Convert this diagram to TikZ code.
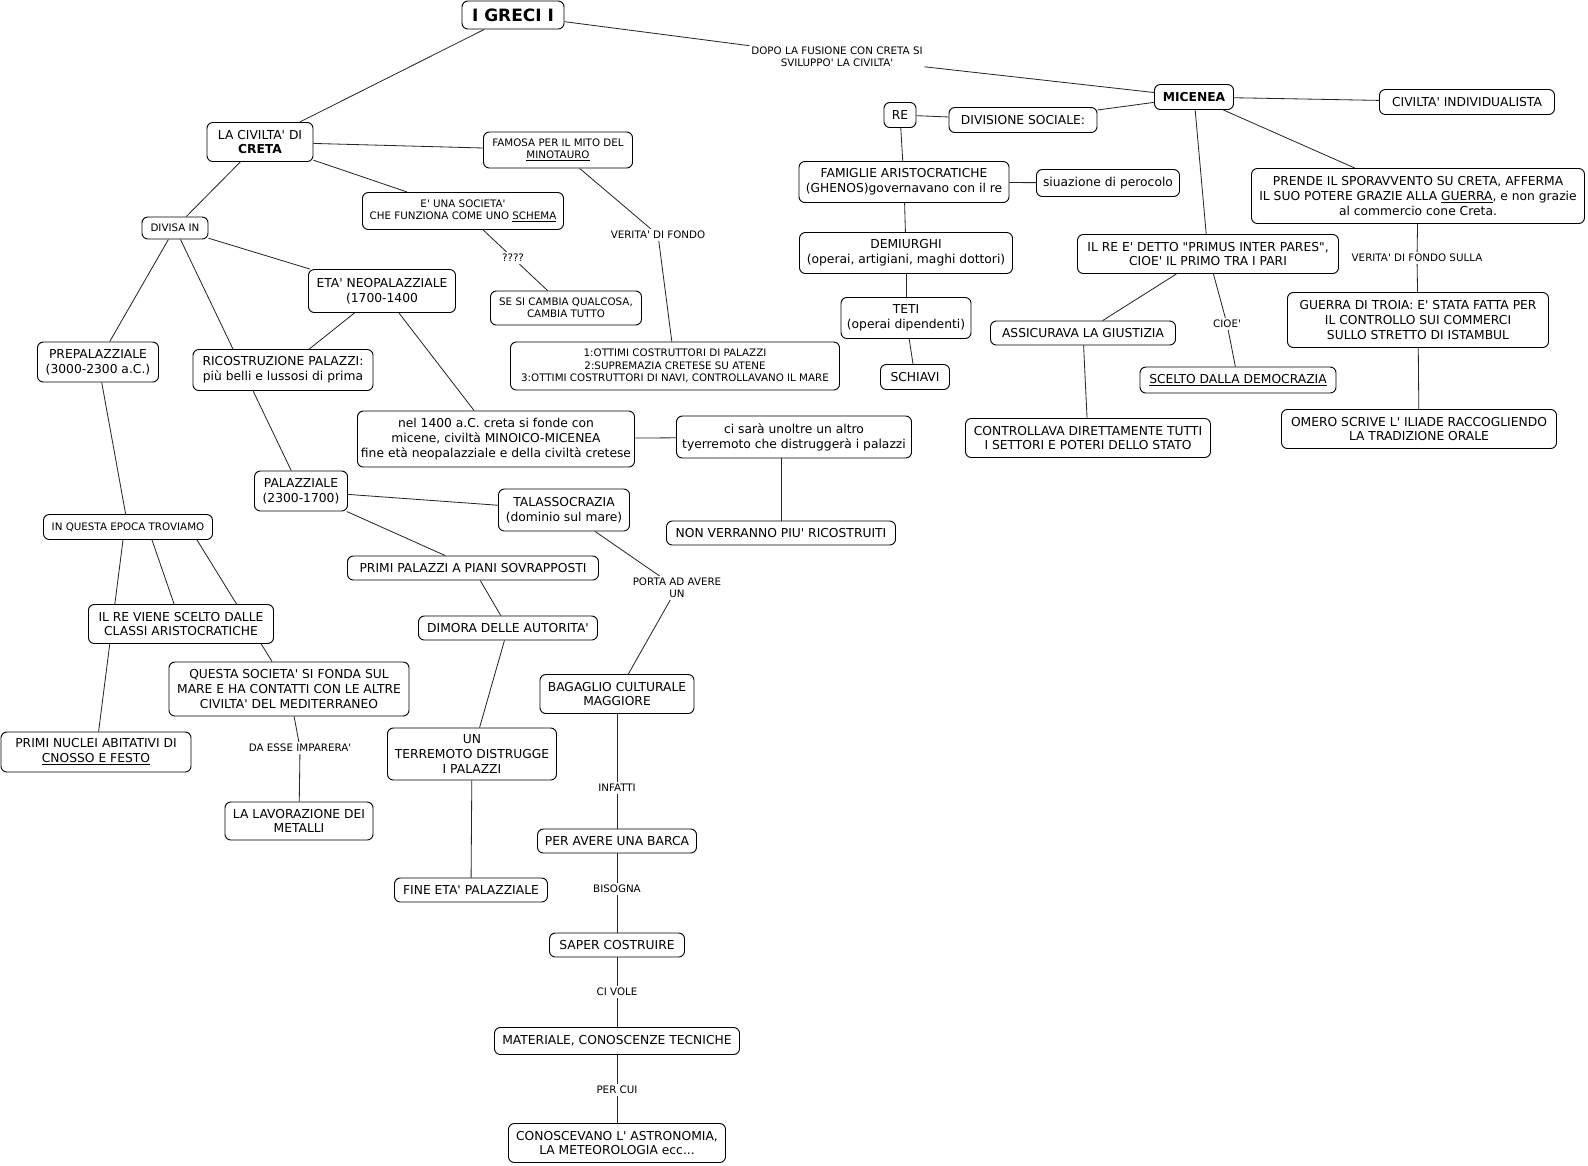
\documentclass[tikz,border=0pt]{standalone}
\usepackage{fontspec}
\newfontfamily\mapfont{DejaVu Sans}
\usetikzlibrary{calc,backgrounds}
\tikzset{
  cm/box/.style={
    draw=black,
    line width=0.8pt,
    rounded corners=5pt,
    fill=white,
    align=center,
    inner sep=1pt,
    font=\mapfont\fontsize{10.5}{12.6}\selectfont
  },
  cm/smallbox/.style={cm/box, font=\mapfont\fontsize{8.8}{10.6}\selectfont},
  cm/link/.style={fill=white, align=center, inner sep=1.5pt, font=\mapfont\fontsize{8.8}{10.4}\selectfont},
  cm/line/.style={line width=0.7pt, draw=black!85}
}

\begin{document}
\begin{tikzpicture}[x=0.03cm,y=-0.03cm]
  \useasboundingbox (0,0) rectangle (1588,1165);
  % title and creta
  \node[cm/box,minimum width=3.06cm,minimum height=0.84cm,font=\mapfont\bfseries\fontsize{14.5}{17}\selectfont] (greci) at (513,15) {I GRECI I};
  \node[cm/box,minimum width=3.18cm,minimum height=1.17cm] (creta) at (260,142) {LA CIVILTA' DI\\\textbf{CRETA}};
  \node[cm/smallbox,minimum width=1.98cm,minimum height=0.66cm] (divisa) at (175,228) {DIVISA IN};
  \node[cm/smallbox,minimum width=4.47cm,minimum height=1.08cm] (famosa) at (558,150) {FAMOSA PER IL MITO DEL\\\underline{MINOTAURO}};
  \node[cm/smallbox,minimum width=6.03cm,minimum height=1.11cm] (societa) at (463,211) {E' UNA SOCIETA'\\CHE FUNZIONA COME UNO \underline{SCHEMA}};
  \node[cm/smallbox,minimum width=4.53cm,minimum height=1.02cm] (cambia) at (566,308) {SE SI CAMBIA QUALCOSA,\\CAMBIA TUTTO};
  \node[cm/smallbox,minimum width=9.87cm,minimum height=1.44cm] (ottimi) at (675,366) {1:OTTIMI COSTRUTTORI DI PALAZZI\\2:SUPREMAZIA CRETESE SU ATENE\\3:OTTIMI COSTRUTTORI DI NAVI, CONTROLLAVANO IL MARE};
  \node[cm/box,minimum width=4.41cm,minimum height=1.29cm] (neopal) at (382,291) {ETA' NEOPALAZZIALE\\(1700-1400};
  \node[cm/box,minimum width=3.63cm,minimum height=1.2cm] (prepal) at (98,362) {PREPALAZZIALE\\(3000-2300 a.C.)};
  \node[cm/box,minimum width=5.4cm,minimum height=1.23cm] (ricos) at (283,370) {RICOSTRUZIONE PALAZZI:\\più belli e lussosi di prima};
  \node[cm/box,minimum width=8.31cm,minimum height=1.68cm] (fusione) at (496,439) {nel 1400 a.C. creta si fonde con\\micene, civiltà MINOICO-MICENEA\\fine età neopalazziale e della civiltà cretese};
  \node[cm/box,minimum width=7.05cm,minimum height=1.26cm] (terremoto2) at (794,437) {ci sarà unoltre un altro\\tyerremoto che distruggerà i palazzi};
  \node[cm/box,minimum width=6.87cm,minimum height=0.72cm] (nonricos) at (781,533) {NON VERRANNO PIU' RICOSTRUITI};
  \node[cm/box,minimum width=2.79cm,minimum height=1.2cm] (palaz) at (301,491) {PALAZZIALE\\(2300-1700)};
  \node[cm/box,minimum width=3.93cm,minimum height=1.26cm] (talasso) at (564,510) {TALASSOCRAZIA\\(dominio sul mare)};
  \node[cm/smallbox,minimum width=5.07cm,minimum height=0.75cm] (epoca) at (128,527) {IN QUESTA EPOCA TROVIAMO};
  \node[cm/box,minimum width=7.53cm,minimum height=0.72cm] (primipal) at (473,568) {PRIMI PALAZZI A PIANI SOVRAPPOSTI};
  \node[cm/box,minimum width=5.37cm,minimum height=0.72cm] (dimora) at (508,628) {DIMORA DELLE AUTORITA'};
  \node[cm/box,minimum width=5.55cm,minimum height=1.17cm] (scelto) at (181,624) {IL RE VIENE SCELTO DALLE\\CLASSI ARISTOCRATICHE};
  \node[cm/box,minimum width=7.2cm,minimum height=1.62cm] (mare) at (289,689) {QUESTA SOCIETA' SI FONDA SUL\\MARE E HA CONTATTI CON LE ALTRE\\CIVILTA' DEL MEDITERRANEO};
  \node[cm/box,minimum width=5.7cm,minimum height=1.2cm] (nuclei) at (96,752) {PRIMI NUCLEI ABITATIVI DI\\\underline{CNOSSO E FESTO}};
  \node[cm/box,minimum width=4.44cm,minimum height=1.14cm] (metalli) at (299,821) {LA LAVORAZIONE DEI\\METALLI};
  \node[cm/box,minimum width=5.07cm,minimum height=1.56cm] (terremoto) at (472,754) {UN\\TERREMOTO DISTRUGGE\\I PALAZZI};
  \node[cm/box,minimum width=4.59cm,minimum height=0.72cm] (fineeta) at (471,890) {FINE ETA' PALAZZIALE};
  \node[cm/box,minimum width=4.62cm,minimum height=1.17cm] (bagaglio) at (617,694) {BAGAGLIO CULTURALE\\MAGGIORE};
  \node[cm/box,minimum width=4.77cm,minimum height=0.72cm] (barca) at (617,841) {PER AVERE UNA BARCA};
  \node[cm/box,minimum width=4.05cm,minimum height=0.72cm] (costruire) at (617,945) {SAPER COSTRUIRE};
  \node[cm/box,minimum width=7.35cm,minimum height=0.81cm] (materiale) at (617,1041) {MATERIALE, CONOSCENZE TECNICHE};
  \node[cm/box,minimum width=6.51cm,minimum height=1.17cm] (astro) at (617,1143) {CONOSCEVANO L' ASTRONOMIA,\\LA METEOROLOGIA ecc...};
  % micenea
  \node[cm/box,minimum width=2.37cm,minimum height=0.75cm] (micenea) at (1194,97) {\textbf{MICENEA}};
  \node[cm/box,minimum width=0.96cm,minimum height=0.75cm] (re) at (900,115) {RE};
  \node[cm/box,minimum width=4.44cm,minimum height=0.75cm] (divsoc) at (1023,120) {DIVISIONE SOCIALE:};
  \node[cm/box,minimum width=6.3cm,minimum height=1.23cm] (famiglie) at (904,182) {FAMIGLIE ARISTOCRATICHE\\(GHENOS)governavano con il re};
  \node[cm/box,minimum width=4.29cm,minimum height=0.81cm] (pericolo) at (1108,183) {siuazione di perocolo};
  \node[cm/box,minimum width=6.39cm,minimum height=1.23cm] (demiurghi) at (906,253) {DEMIURGHI\\(operai, artigiani, maghi dottori)};
  \node[cm/box,minimum width=3.9cm,minimum height=1.23cm] (teti) at (906,318) {TETI\\(operai dipendenti)};
  \node[cm/box,minimum width=2.07cm,minimum height=0.75cm] (schiavi) at (915,377) {SCHIAVI};
  \node[cm/box,minimum width=7.83cm,minimum height=1.17cm] (primus) at (1208,254) {IL RE E' DETTO "PRIMUS INTER PARES",\\CIOE' IL PRIMO TRA I PARI};
  \node[cm/box,minimum width=5.55cm,minimum height=0.72cm] (giustizia) at (1083,333) {ASSICURAVA LA GIUSTIZIA};
  \node[cm/box,minimum width=7.35cm,minimum height=1.17cm] (poteri) at (1088,438) {CONTROLLAVA DIRETTAMENTE TUTTI\\I SETTORI E POTERI DELLO STATO};
  \node[cm/box,minimum width=5.88cm,minimum height=0.78cm] (democrazia) at (1238,380) {\underline{SCELTO DALLA DEMOCRAZIA}};
  \node[cm/box,minimum width=5.25cm,minimum height=0.75cm] (individ) at (1467,102) {CIVILTA' INDIVIDUALISTA};
  \node[cm/box,minimum width=9.99cm,minimum height=1.65cm] (guerra) at (1418,196) {PRENDE IL SPORAVVENTO SU CRETA, AFFERMA\\IL SUO POTERE GRAZIE ALLA \underline{GUERRA}, e non grazie\\al commercio cone Creta.};
  \node[cm/box,minimum width=7.83cm,minimum height=1.65cm] (troia) at (1418,320) {GUERRA DI TROIA: E' STATA FATTA PER\\IL CONTROLLO SUI COMMERCI\\SULLO STRETTO DI ISTAMBUL};
  \node[cm/box,minimum width=8.25cm,minimum height=1.17cm] (omero) at (1419,429) {OMERO SCRIVE L' ILIADE RACCOGLIENDO\\LA TRADIZIONE ORALE};
  % link labels
  \node[cm/link] (dopo) at (837,57) {DOPO LA FUSIONE CON CRETA SI\\SVILUPPO' LA CIVILTA'};
  \node[cm/link] (domanda) at (513,258) {????};
  \node[cm/link] (verita) at (658,235) {VERITA' DI FONDO};
  \node[cm/link] (porta) at (677,588) {PORTA AD AVERE\\UN};
  \node[cm/link] (imparera) at (300,748) {DA ESSE IMPARERA'};
  \node[cm/link] (infatti) at (617,788) {INFATTI};
  \node[cm/link] (bisogna) at (617,889) {BISOGNA};
  \node[cm/link] (civole) at (617,992) {CI VOLE};
  \node[cm/link] (percui) at (617,1090) {PER CUI};
  \node[cm/link] (cioe) at (1227,324) {CIOE'};
  \node[cm/link] (sulla) at (1417,258) {VERITA' DI FONDO SULLA};

  \begin{scope}[on background layer]
    \fill[white] (0,0) rectangle (1588,1165);
    \draw[cm/line] (greci) -- (creta);
    \draw[cm/line] (greci) -- (dopo) -- (micenea);
    \draw[cm/line] (creta) -- (famosa);
    \draw[cm/line] (creta) -- (societa);
    \draw[cm/line] (creta) -- (divisa);
    \draw[cm/line] (societa) -- (domanda) -- (cambia);
    \draw[cm/line] (famosa) -- (verita) -- (ottimi);
    \draw[cm/line] (divisa) -- (prepal);
    \draw[cm/line] (divisa) -- (palaz);
    \draw[cm/line] (divisa) -- (neopal);
    \draw[cm/line] (neopal) -- (ricos);
    \draw[cm/line] (neopal) -- (fusione);
    \draw[cm/line] (fusione) -- (terremoto2);
    \draw[cm/line] (nonricos) -- (nonricos |- terremoto2.south);
    \draw[cm/line] (prepal) -- (epoca);
    \draw[cm/line] ($(epoca.south)+(-5,0)$) -- (nuclei);
    \draw[cm/line] ($(epoca.south)+(24,0)$) -- (scelto);
    \draw[cm/line] ($(epoca.south)+(69,0)$) -- (mare);
    \draw[cm/line] (mare) -- (imparera) -- (metalli);
    \draw[cm/line] (palaz) -- (talasso);
    \draw[cm/line] (palaz) -- (primipal);
    \draw[cm/line] (primipal) -- (dimora);
    \draw[cm/line] (dimora) -- (terremoto);
    \draw[cm/line] (terremoto) -- (fineeta);
    \draw[cm/line] (talasso) -- (porta) -- (bagaglio);
    \draw[cm/line] (bagaglio) -- (infatti) -- (barca);
    \draw[cm/line] (barca) -- (bisogna) -- (costruire);
    \draw[cm/line] (costruire) -- (civole) -- (materiale);
    \draw[cm/line] (materiale) -- (percui) -- (astro);
    % micenea
    \draw[cm/line] (micenea) -- (divsoc);
    \draw[cm/line] (divsoc) -- (re);
    \draw[cm/line] (re) -- (famiglie);
    \draw[cm/line] (famiglie) -- (pericolo);
    \draw[cm/line] (famiglie) -- (demiurghi);
    \draw[cm/line] (demiurghi) -- (teti);
    \draw[cm/line] (teti) -- (schiavi);
    \draw[cm/line] (micenea) -- (primus);
    \draw[cm/line] (micenea) -- (individ);
    \draw[cm/line] (micenea) -- (guerra);
    \draw[cm/line] (primus) -- (giustizia);
    \draw[cm/line] (giustizia) -- (poteri);
    \draw[cm/line] (primus) -- (cioe) -- (democrazia);
    \draw[cm/line] (guerra) -- (sulla) -- (troia);
    \draw[cm/line] (troia) -- (omero);
  \end{scope}
\end{tikzpicture}
\end{document}
